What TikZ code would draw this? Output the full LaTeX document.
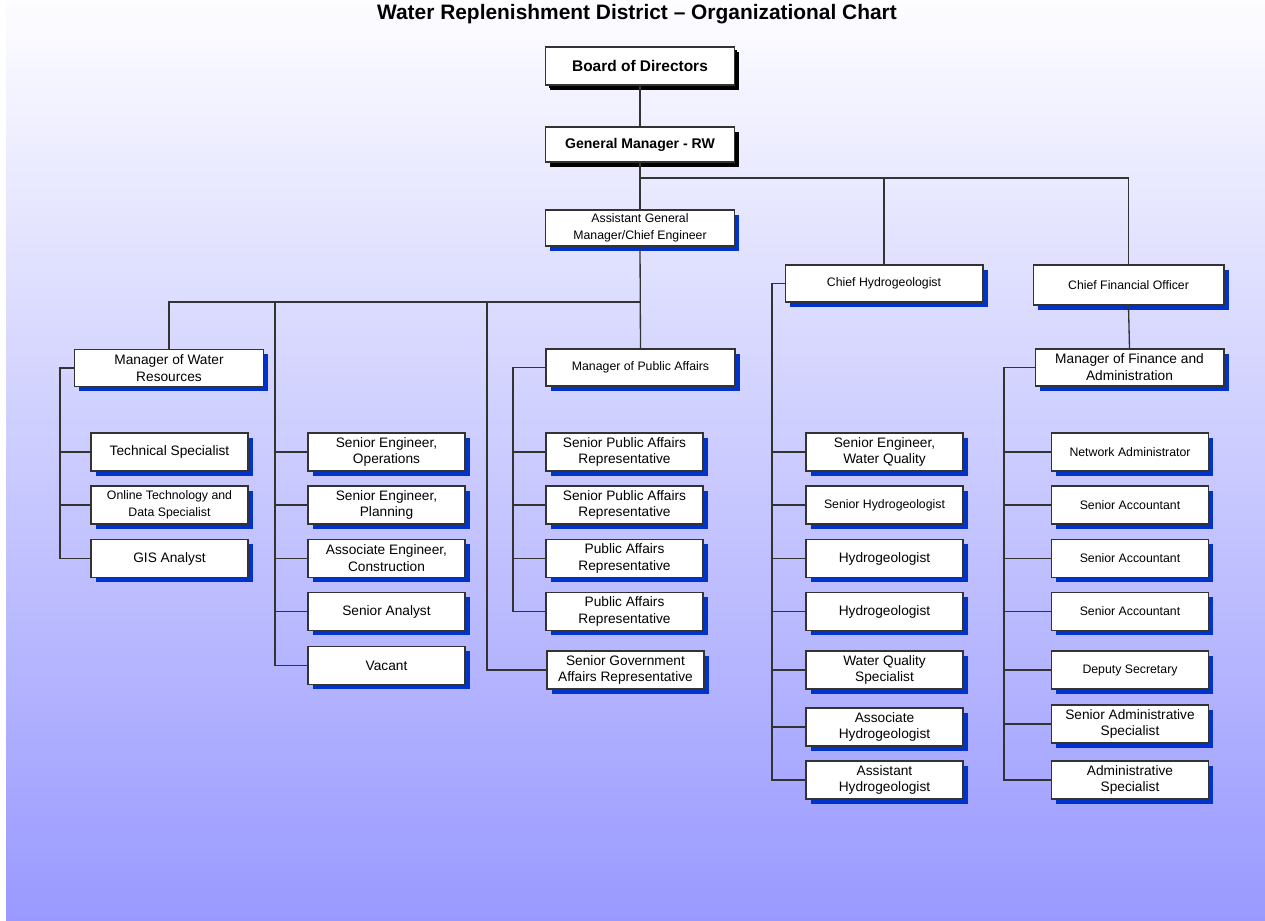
\documentclass[tikz,border=0pt]{standalone}
\usepackage{fontspec}
\setmainfont{Liberation Sans}
\usepackage{xcolor}
\usepackage{tikz}
\usetikzlibrary{shadows}

\definecolor{bgtop}{RGB}{253,253,255}
\definecolor{bgbottom}{RGB}{153,153,255}
\definecolor{shadowblue}{RGB}{0,51,204}
\definecolor{linegray}{RGB}{51,51,51}

\tikzset{
  orgbox/.style={draw=linegray, fill=white, line width=0.6pt, align=center,
    inner sep=1pt, font=\fontsize{7.8}{9.6}\selectfont,
    drop shadow={shadow xshift=2.8pt, shadow yshift=-2.8pt, fill=shadowblue, opacity=1}},
  smalltext/.style={font=\fontsize{7}{9.6}\selectfont},
  topbox/.style={orgbox, font=\fontsize{8}{9.6}\selectfont\bfseries,
    drop shadow={shadow xshift=2.8pt, shadow yshift=-2.8pt, fill=black, opacity=1}},
  widebox/.style={orgbox, minimum width=3.78cm, minimum height=0.74cm},
  staffbox/.style={orgbox, minimum width=3.14cm, minimum height=0.76cm},
  link/.style={draw=linegray, line width=0.75pt}
}

\begin{document}
\begin{tikzpicture}[x=0.02cm, y=-0.02cm]
    \useasboundingbox (0,0) rectangle (1265,920);
    \shade[top color=bgtop, bottom color=bgbottom] (6,0) rectangle (1265,920);
    \node[font=\fontsize{11.9}{13}\selectfont\bfseries] (title) at (637,14)
        {Water Replenishment District -- Organizational Chart};

    % top of the chart
    \node[topbox, minimum width=3.78cm, minimum height=0.76cm,
        drop shadow={shadow xshift=1.7pt, shadow yshift=-1.7pt, fill=black, opacity=1},
        font=\fontsize{8.8}{10}\selectfont\bfseries] (board) at (640,66) {Board of Directors};
    \node[topbox, minimum width=3.78cm, minimum height=0.7cm] (gm) at (640,144.5) {General Manager - RW};
    \node[widebox, smalltext, minimum height=0.72cm] (agm) at (640,228) {Assistant General\\Manager/Chief Engineer};
    \node[widebox, smalltext, minimum width=3.96cm] (chief) at (884,283.5) {Chief Hydrogeologist};
    \node[widebox, smalltext, minimum width=3.82cm, minimum height=0.8cm] (cfo) at (1128.5,285) {Chief Financial Officer};

    % managers
    \node[widebox] (mwr) at (169,368) {Manager of Water\\Resources};
    \node[widebox, smalltext] (mpa) at (640.5,367.5) {Manager of Public Affairs};
    \node[widebox] (mfa) at (1129.5,367.5) {Manager of Finance and\\Administration};

    % water resources staff
    \node[staffbox] (tech) at (169.5,452) {Technical Specialist};
    \node[staffbox, smalltext] (online) at (169.5,505) {Online Technology and\\Data Specialist};
    \node[staffbox] (gis) at (169.5,558.5) {GIS Analyst};

    % engineering staff
    \node[staffbox] (seo) at (386.5,452) {Senior Engineer,\\Operations};
    \node[staffbox] (sep) at (386.5,505) {Senior Engineer,\\Planning};
    \node[staffbox] (aec) at (386.5,558.5) {Associate Engineer,\\Construction};
    \node[staffbox] (sa) at (386.5,611.5) {Senior Analyst};
    \node[staffbox] (vacant) at (386.5,665.5) {Vacant};

    % public affairs staff
    \node[staffbox] (spar1) at (624.5,452) {Senior Public Affairs\\Representative};
    \node[staffbox] (spar2) at (624.5,505) {Senior Public Affairs\\Representative};
    \node[staffbox] (par1) at (624.5,558.5) {Public Affairs\\Representative};
    \node[staffbox] (par2) at (624.5,611.5) {Public Affairs\\Representative};
    \node[staffbox] (sgar) at (625.5,670) {Senior Government\\Affairs Representative};

    % hydrogeology staff
    \node[staffbox] (sewq) at (884.5,452) {Senior Engineer,\\Water Quality};
    \node[staffbox, smalltext] (shyd) at (884.5,505) {Senior Hydrogeologist};
    \node[staffbox] (hyd1) at (884.5,558.5) {Hydrogeologist};
    \node[staffbox] (hyd2) at (884.5,611.5) {Hydrogeologist};
    \node[staffbox] (wqs) at (884.5,670) {Water Quality\\Specialist};
    \node[staffbox] (ahyd) at (884.5,727) {Associate\\Hydrogeologist};
    \node[staffbox] (ashyd) at (884.5,780) {Assistant\\Hydrogeologist};

    % finance staff
    \node[staffbox, smalltext] (netadm) at (1130,452) {Network Administrator};
    \node[staffbox, smalltext] (acc1) at (1130,505) {Senior Accountant};
    \node[staffbox, smalltext] (acc2) at (1130,558.5) {Senior Accountant};
    \node[staffbox, smalltext] (acc3) at (1130,611.5) {Senior Accountant};
    \node[staffbox, smalltext] (depsec) at (1130,670) {Deputy Secretary};
    \node[staffbox] (sas) at (1130,724) {Senior Administrative\\Specialist};
    \node[staffbox] (adms) at (1130,780) {Administrative\\Specialist};

    % bus and spine points
    \coordinate (topbus) at (640,178);
    \coordinate (agmbus) at (640,302);
    \coordinate (engspine) at (275,302);
    \coordinate (govspine) at (487,302);
    \coordinate (wrspine) at (60,368);
    \coordinate (paspine) at (513,367.5);
    \coordinate (hydspine) at (772,283.5);
    \coordinate (finspine) at (1004,367.5);

    % connectors
    \draw[link] (board) -- (gm);
    \draw[link] (gm.south) -- (agm.north);
    \draw[link] (topbus) -| (chief.north);
    \draw[link] (topbus) -| (cfo.north);
    \draw[link] (cfo.south) -- (mfa.north);
    \draw[link] (agm.south) -- (mpa.north);
    \draw[link] (agmbus) -| (mwr.north);
    \draw[link] (engspine) |- (vacant.west);
    \draw[link] (govspine) |- (sgar.west);
    \draw[link] (mwr.west) -- (wrspine) |- (gis.west);
    \draw[link] (mpa.west) -- (paspine) |- (par2.west);
    \draw[link] (chief.west) -- (hydspine) |- (ashyd.west);
    \draw[link] (mfa.west) -- (finspine) |- (adms.west);
    \foreach \n in {tech,online}
        \draw[link] (wrspine |- \n.west) -- (\n.west);
    \foreach \n in {seo,sep,aec,sa}
        \draw[link] (engspine |- \n.west) -- (\n.west);
    \foreach \n in {spar1,spar2,par1}
        \draw[link] (paspine |- \n.west) -- (\n.west);
    \foreach \n in {sewq,shyd,hyd1,hyd2,wqs,ahyd}
        \draw[link] (hydspine |- \n.west) -- (\n.west);
    \foreach \n in {netadm,acc1,acc2,acc3,depsec,sas}
        \draw[link] (finspine |- \n.west) -- (\n.west);
\end{tikzpicture}
\end{document}
